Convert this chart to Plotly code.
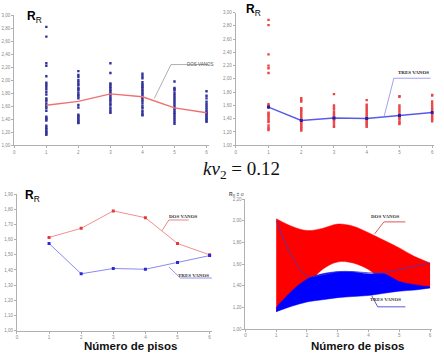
import plotly.graph_objects as go

floors = [1, 2, 3, 4, 5, 6]
x_ticks = [0, 1, 2, 3, 4, 5, 6]

# mean R_R per number of floors
dos_mean = [1.615, 1.675, 1.79, 1.745, 1.575, 1.50]
tres_mean = [1.575, 1.375, 1.41, 1.405, 1.45, 1.495]

# individual R_R values, two spans (DOS VANOS)
dos_f1 = [2.82, 2.67, 2.26, 2.22, 2.06, 1.96, 1.93, 1.90, 1.86, 1.82, 1.78, 1.72, 1.70, 1.67,
          1.63, 1.60, 1.57, 1.53, 1.44, 1.42, 1.40, 1.38, 1.30, 1.27, 1.25, 1.22, 1.20, 1.18, 1.16]
dos_f2 = [2.14, 2.08, 2.05, 2.00, 1.97, 1.94, 1.92, 1.88, 1.86, 1.84, 1.80, 1.77, 1.75, 1.72,
          1.62, 1.58, 1.47, 1.45, 1.43, 1.41, 1.39, 1.37, 1.35, 1.34]
dos_f3 = [2.26, 2.11, 1.95, 1.93, 1.90, 1.88, 1.85, 1.83, 1.80, 1.78, 1.75, 1.72, 1.70, 1.67,
          1.64, 1.62, 1.58, 1.55, 1.52, 1.50]
dos_f4 = [2.10, 2.06, 2.03, 1.97, 1.94, 1.92, 1.90, 1.88, 1.85, 1.83, 1.80, 1.78, 1.75, 1.73,
          1.70, 1.67, 1.64, 1.60, 1.57, 1.53, 1.50, 1.47, 1.46]
dos_f5 = [1.98, 1.88, 1.86, 1.84, 1.80, 1.77, 1.74, 1.71, 1.68, 1.65, 1.62, 1.59, 1.56, 1.53,
          1.50, 1.48, 1.45, 1.42, 1.39, 1.36, 1.33]
dos_f6 = [1.83, 1.76, 1.72, 1.67, 1.64, 1.61, 1.58, 1.55, 1.52, 1.50, 1.48, 1.46, 1.44, 1.42,
          1.40, 1.38, 1.36]

# individual R_R values, three spans (TRES VANOS)
tres_f1 = [2.89, 2.81, 2.37, 2.20, 2.16, 2.09, 1.62, 1.60, 1.57, 1.49, 1.47, 1.45, 1.43, 1.40,
           1.37, 1.35, 1.30, 1.27, 1.25, 1.23]
tres_f2 = [1.71, 1.68, 1.66, 1.56, 1.54, 1.52, 1.49, 1.46, 1.43, 1.40, 1.38, 1.36, 1.34, 1.32,
           1.30, 1.28, 1.26, 1.24, 1.22]
tres_f3 = [1.77, 1.60, 1.57, 1.54, 1.50, 1.47, 1.45, 1.42, 1.40, 1.38, 1.36, 1.33, 1.30, 1.28]
tres_f4 = [1.68, 1.61, 1.58, 1.55, 1.52, 1.49, 1.46, 1.43, 1.41, 1.38, 1.36, 1.34, 1.32, 1.30, 1.28]
tres_f5 = [1.74, 1.73, 1.60, 1.57, 1.54, 1.51, 1.48, 1.45, 1.43, 1.41, 1.39, 1.36, 1.34, 1.32]
tres_f6 = [1.76, 1.75, 1.66, 1.63, 1.60, 1.57, 1.55, 1.53, 1.50, 1.48, 1.46, 1.44, 1.42, 1.40,
           1.38, 1.36]

# R_R +/- sigma bands
band_x = [1, 1.5, 2, 2.5, 3, 3.5, 4, 4.5, 5, 5.5, 6]
dos_upper = [2.02, 1.95, 1.91, 1.93, 1.97, 1.95, 1.89, 1.82, 1.75, 1.67, 1.61]
dos_lower = [1.16, 1.26, 1.40, 1.55, 1.62, 1.61, 1.55, 1.44, 1.39, 1.38, 1.38]
tres_upper = [1.20, 1.35, 1.46, 1.51, 1.53, 1.53, 1.51, 1.51, 1.44, 1.41, 1.39]
tres_lower = [1.16, 1.21, 1.25, 1.27, 1.29, 1.30, 1.31, 1.33, 1.35, 1.36, 1.38]
tres_edge = [2.00, 1.68, 1.49, 1.50, 1.53, 1.53, 1.52, 1.52, 1.55, 1.58, 1.61]

# leader lines of the series labels
tl_lead_x, tl_lead_y = [4.37, 4.89, 6.08], [1.72, 2.24, 2.24]
tr_lead_x, tr_lead_y = [4.53, 4.83, 5.95], [1.43, 2.01, 2.01]
bl_dos_x, bl_dos_y = [4.52, 4.73, 5.35], [1.66, 1.73, 1.73]
bl_tres_x, bl_tres_y = [4.73, 5.09, 6.12], [1.42, 1.347, 1.347]
br_dos_x, br_dos_y = [4.2, 4.5, 5.2], [1.88, 1.99, 1.99]
br_tres_x, br_tres_y = [4.1, 4.3, 5.2], [1.31, 1.205, 1.205]

fig = go.Figure()

def scatter_groups(groups, color, xa, ya):
    xs, ys = [], []
    for f, vals in zip(floors, groups):
        xs += [f] * len(vals)
        ys += vals
    fig.add_trace(go.Scatter(x=xs, y=ys, mode="markers", xaxis=xa, yaxis=ya,
                             marker=dict(size=2.4, color=color, symbol="square"),
                             showlegend=False))

# ---- top-left
scatter_groups([dos_f1, dos_f2, dos_f3, dos_f4, dos_f5, dos_f6], "#33339a", "x", "y")
fig.add_trace(go.Scatter(x=floors, y=dos_mean, mode="lines", xaxis="x", yaxis="y",
                         line=dict(color="#f07070", width=1.4), showlegend=False))
fig.add_trace(go.Scatter(x=tl_lead_x, y=tl_lead_y, mode="lines", xaxis="x", yaxis="y",
                         line=dict(color="#9a9a9a", width=0.8), showlegend=False))

# ---- top-right
scatter_groups([tres_f1, tres_f2, tres_f3, tres_f4, tres_f5, tres_f6], "#ec4444", "x2", "y2")
fig.add_trace(go.Scatter(x=floors, y=tres_mean, mode="lines+markers", xaxis="x2", yaxis="y2",
                         line=dict(color="#5a5ae6", width=1.5),
                         marker=dict(size=3, color="#2020b0", symbol="square"),
                         showlegend=False))
fig.add_trace(go.Scatter(x=tr_lead_x, y=tr_lead_y, mode="lines", xaxis="x2", yaxis="y2",
                         line=dict(color="#8a8ae8", width=0.8), showlegend=False))

# ---- bottom-left
fig.add_trace(go.Scatter(x=floors, y=dos_mean, mode="lines+markers", xaxis="x3", yaxis="y3",
                         line=dict(color="#f29090", width=1),
                         marker=dict(size=3, color="#e03a3a", symbol="square"),
                         showlegend=False))
fig.add_trace(go.Scatter(x=floors, y=tres_mean, mode="lines+markers", xaxis="x3", yaxis="y3",
                         line=dict(color="#8a8af0", width=1),
                         marker=dict(size=3, color="#2a2ad0", symbol="square"),
                         showlegend=False))
fig.add_trace(go.Scatter(x=bl_dos_x, y=bl_dos_y, mode="lines", xaxis="x3", yaxis="y3",
                         line=dict(color="#e06a6a", width=0.8), showlegend=False))
fig.add_trace(go.Scatter(x=bl_tres_x, y=bl_tres_y, mode="lines", xaxis="x3", yaxis="y3",
                         line=dict(color="#7a7ae6", width=0.8), showlegend=False))

# ---- bottom-right bands
fig.add_trace(go.Scatter(x=band_x, y=dos_lower, mode="lines", xaxis="x4", yaxis="y4",
                         line=dict(color="#ff0000", width=0.5, shape="spline"),
                         showlegend=False))
fig.add_trace(go.Scatter(x=band_x, y=dos_upper, mode="lines", xaxis="x4", yaxis="y4",
                         fill="tonexty", fillcolor="#ff0000",
                         line=dict(color="#ff0000", width=0.5, shape="spline"),
                         showlegend=False))
fig.add_trace(go.Scatter(x=band_x, y=tres_lower, mode="lines", xaxis="x4", yaxis="y4",
                         line=dict(color="#0000ff", width=0.5, shape="spline"),
                         showlegend=False))
fig.add_trace(go.Scatter(x=band_x, y=tres_upper, mode="lines", xaxis="x4", yaxis="y4",
                         fill="tonexty", fillcolor="#0000ff",
                         line=dict(color="#0000ff", width=0.5, shape="spline"),
                         showlegend=False))
fig.add_trace(go.Scatter(x=band_x, y=tres_edge, mode="lines", xaxis="x4", yaxis="y4",
                         line=dict(color="#3a3ac8", width=0.8, shape="spline"),
                         showlegend=False))
fig.add_trace(go.Scatter(x=br_dos_x, y=br_dos_y, mode="lines", xaxis="x4", yaxis="y4",
                         line=dict(color="#d03030", width=0.8), showlegend=False))
fig.add_trace(go.Scatter(x=br_tres_x, y=br_tres_y, mode="lines", xaxis="x4", yaxis="y4",
                         line=dict(color="#3030d0", width=0.8), showlegend=False))

tickfont = dict(size=4.5, color="#888888", family="Arial, Liberation Sans, sans-serif")

def xax(domain, rng, anchor):
    return dict(domain=domain, range=rng, anchor=anchor, tickvals=x_ticks,
                showline=True, linecolor="#b0b0b0", linewidth=1, ticks="outside",
                ticklen=2, tickcolor="#b0b0b0", tickfont=tickfont, showgrid=False,
                zeroline=False, fixedrange=True)

def yax(domain, rng, dtick, anchor):
    return dict(domain=domain, range=rng, anchor=anchor, dtick=dtick, tick0=1,
                tickformat=".2f", showline=True, linecolor="#b0b0b0", linewidth=1,
                ticks="outside", ticklen=2, tickcolor="#b0b0b0", tickfont=tickfont,
                showgrid=False, zeroline=False, fixedrange=True)

fig.update_layout(
    width=444, height=354, margin=dict(l=0, r=0, t=0, b=0),
    paper_bgcolor="white", plot_bgcolor="white", separators=",.",
    xaxis=xax([0.030, 0.469], [0, 6.07], "y"),
    yaxis=yax([0.5895, 0.9624], [1, 3], 0.2, "x"),
    xaxis2=xax([0.530, 0.977], [0, 6.05], "y2"),
    yaxis2=yax([0.5895, 0.9698], [1, 3], 0.2, "x2"),
    xaxis3=xax([0.036, 0.476], [0, 6.07], "y3"),
    yaxis3=yax([0.0584, 0.4492], [1, 1.9], 0.1, "x3"),
    xaxis4=xax([0.5518, 0.972], [0, 6.05], "y4"),
    yaxis4=yax([0.063, 0.435], [1, 2.2], 0.2, "x4"),
)

def ann(x, y, text, size, color="black", family="Arial, Liberation Sans, sans-serif",
        xanchor="center"):
    fig.add_annotation(x=x / 444, y=1 - y / 354, xref="paper", yref="paper", text=text,
                       showarrow=False, xanchor=xanchor, yanchor="middle",
                       font=dict(size=size, color=color, family=family))

rr = "<b>R</b><sub>R</sub>"
ann(24, 15, rr, 12, xanchor="left")
ann(244, 8, rr, 12, xanchor="left")
ann(22, 197, rr, 12, xanchor="left")
ann(227, 195, "<b>R</b><sub>R</sub> ± σ", 5, color="#555555", xanchor="left")

serif = "Liberation Serif, Times New Roman, serif"
ann(199, 63, "DOS VANOS", 4.5, color="#555555")
ann(413, 72, "<b>TRES VANOS</b>", 5, color="#222222", family=serif)
ann(183, 218, "<b>DOS VANOS</b>", 5, color="#333333", family=serif)
ann(193, 277, "<b>TRES VANOS</b>", 5, color="#333333", family=serif)
ann(385, 218, "<b>DOS VANOS</b>", 5, color="#333333", family=serif)
ann(385, 302, "<b>TRES VANOS</b>", 5, color="#333333", family=serif)

ann(130, 348.5, "<b>Número de pisos</b>", 11.5, color="#111111",
    family="Arial, Liberation Sans, sans-serif")
ann(357, 348.5, "<b>Número de pisos</b>", 11.5, color="#111111",
    family="Arial, Liberation Sans, sans-serif")

ann(200, 170, "<i>kv</i><sub>2</sub> = 0.12", 19, color="#111111", family=serif,
    xanchor="left")

fig.write_html("out.html")
